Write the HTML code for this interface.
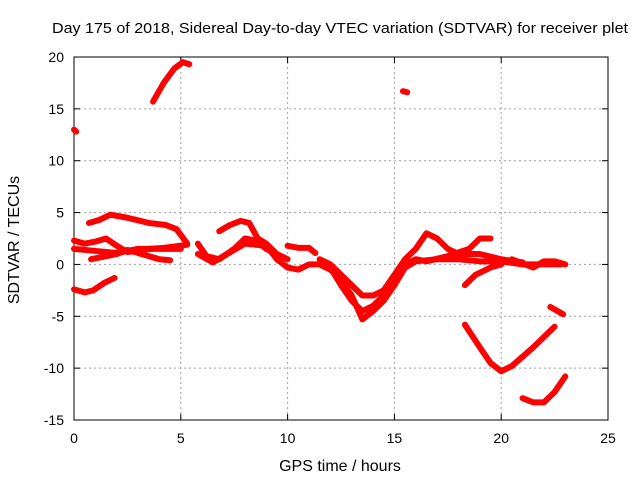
<!DOCTYPE html>
<html><head><meta charset="utf-8"><style>
body{margin:0;background:#fff}
svg{display:block;font-family:"Liberation Sans",sans-serif}
</style></head><body>
<svg id="chart" width="640" height="480"></svg>
<script>
const xTicks=[0,5,10,15,20,25];
const yTicks=[-15,-10,-5,0,5,10,15,20];
const s1=[[0,13],[0.1,12.8]];
const s2=[[3.7,15.7],[4.2,17.5],[4.7,18.9],[5.1,19.5],[5.4,19.3]];
const s3=[[15.4,16.7],[15.6,16.6]];
const s4=[[0,-2.4],[0.5,-2.7],[0.9,-2.5],[1.4,-1.8],[1.9,-1.3]];
const s5=[[0.7,4],[1.2,4.3],[1.7,4.8],[2.5,4.5],[3.5,4],[4.3,3.8],[4.8,3.4],[5.3,2]];
const s6=[[0,2.3],[0.5,2],[1,2.2],[1.5,2.5],[2,1.8],[2.5,1.2],[3,1.3],[3.5,1.5],[4.2,1.6],[5,1.8],[5.3,1.9]];
const s7=[[0,1.5],[1,1.3],[2,1.1],[3,1.5],[4,1.5],[5,1.5]];
const s8=[[0.8,0.5],[1.5,0.8],[2,1],[2.5,1.4],[3.5,0.8],[4,0.5],[4.5,0.4]];
const s9=[[5.8,2],[6.2,0.8],[6.8,0.5],[7.5,1.5],[8,2.5],[8.5,2.3],[9,1.5],[9.5,1]];
const s10=[[6.8,3.2],[7.3,3.8],[7.8,4.2],[8.2,4],[8.6,2.5],[9,2],[9.5,1],[10,0.5]];
const s11=[[5.8,1],[6.5,0.2],[7,0.8],[8,2],[9,1.8],[9.5,0.5],[10,-0.3],[10.5,-0.5],[11,0],[11.5,0],[12,-0.5],[12.5,-1.5],[13,-3],[13.5,-5.3],[14,-4.5],[14.5,-3.5],[15,-2],[15.5,-0.3],[16,0.3],[17,0.5],[18,0.5],[19,0.3],[20,0.3],[21,0],[22,0],[22.8,0]];
const s12=[[10,1.8],[10.5,1.6],[11,1.6],[11.3,1.1]];
const s13=[[11.5,0.5],[12,0],[12.5,-1],[13,-2],[13.5,-3],[14,-3],[14.5,-2.5],[15,-1],[15.5,0.5],[16,1.5],[16.5,3],[17,2.5],[17.5,1.5],[18,1],[19,1],[20,0.5],[21,0.2]];
const s14=[[12,-0.3],[12.5,-2],[13,-3.5],[13.5,-4.5],[14,-4],[14.5,-3],[15,-1.5],[15.5,0],[16,0.5],[16.5,0.3],[17.5,0.8],[18.5,1.5],[19,2.5],[19.5,2.5]];
const s15=[[18.3,-2],[18.8,-1],[19.5,-0.3],[20,0]];
const s16=[[18.3,-5.8],[19,-8],[19.5,-9.5],[20,-10.3],[20.5,-9.8],[21.5,-8],[22.5,-6]];
const s17=[[20.5,0.5],[21.5,-0.3],[22,0.3],[22.5,0.3],[23,0]];
const s18=[[22.3,-4.1],[22.9,-4.8]];
const s19=[[21,-12.9],[21.5,-13.3],[22,-13.3],[22.5,-12.3],[23,-10.8]];
const series=[s1,s2,s3,s4,s5,s6,s7,s8,s9,s10,s11,s12,s13,s14,s15,s16,s17,s18,s19];

const L=74,R=608,T=57,B=420;
const xs=v=>L+(v-0)/25*(R-L);
const ys=v=>B-(v+15)/35*(B-T);
const NS="http://www.w3.org/2000/svg";
const svg=document.getElementById('chart');
function mk(tag,at,parent){const e=document.createElementNS(NS,tag);for(const k in at)e.setAttribute(k,at[k]);(parent||svg).appendChild(e);return e;}

xTicks.forEach(v=>{
  const x=xs(v);
  if(v>0&&v<25){const g=mk('line',{x1:x,x2:x,y1:T,y2:B,stroke:'#a0a0a0','stroke-dasharray':'2,3'});
  
  }
  const t=mk('line',{x1:x,x2:x,y1:B,y2:B-6,stroke:'#000'});
  
  
  mk('line',{x1:x,x2:x,y1:T,y2:T+6,stroke:'#000'});
  const l=mk('text',{x:x,y:B+23,'text-anchor':'middle','font-size':14});
  l.textContent=v;
  
  
});
yTicks.forEach(v=>{
  const y=ys(v);
  if(v>-15&&v<20){const g=mk('line',{x1:L,x2:R,y1:y,y2:y,stroke:'#a0a0a0','stroke-dasharray':'2,3'});
  
  }
  const t=mk('line',{x1:L,x2:L+6,y1:y,y2:y,stroke:'#000'});
  
  
  mk('line',{x1:R,x2:R-6,y1:y,y2:y,stroke:'#000'});
  const l=mk('text',{x:L-10,y:y+5,'text-anchor':'end','font-size':14});
  l.textContent=v;
  
  
});
const frame=mk('rect',{x:L,y:T,width:R-L,height:B-T,fill:'none',stroke:'#000'});



series.forEach(s=>{
  const p=mk('polyline',{points:s.map(d=>xs(d[0])+','+ys(d[1])).join(' '),fill:'none',stroke:'#ff0000','stroke-width':6,'stroke-linejoin':'round','stroke-linecap':'round'});
  
  
});

const tt=mk('text',{x:52,y:33,'font-size':15,textLength:576,lengthAdjust:'spacingAndGlyphs'});
tt.textContent='Day 175 of 2018, Sidereal Day-to-day VTEC variation (SDTVAR) for receiver plet';


const xt=mk('text',{x:340,y:471,'text-anchor':'middle','font-size':16});
xt.textContent='GPS time / hours';


const yt=mk('text',{x:0,y:0,'text-anchor':'middle','font-size':16,transform:'translate(19,240) rotate(-90)'});
yt.textContent='SDTVAR / TECUs';


</script>
</body></html>
